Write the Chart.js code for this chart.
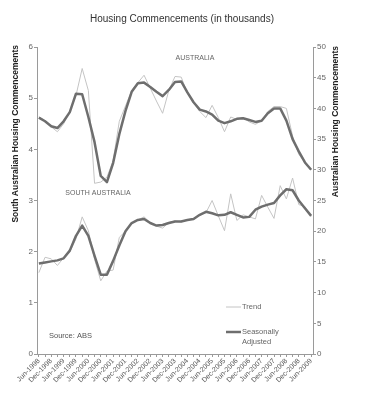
<!DOCTYPE html>
<html>
<head>
<meta charset="utf-8">
<script src="https://cdn.jsdelivr.net/npm/chart.js@4"></script>
<style>
  html, body { margin: 0; padding: 0; background: #fff; }
  #wrap { width: 366px; height: 400px; position: relative; }
</style>
</head>
<body>
<div id="wrap"><canvas id="chart" width="366" height="400"></canvas></div>
<script>
// quarterly categories, Jun-1998 .. Jun-2009
const quarters = [
  'Jun-1998','Sep-1998','Dec-1998','Mar-1999','Jun-1999','Sep-1999','Dec-1999','Mar-2000',
  'Jun-2000','Sep-2000','Dec-2000','Mar-2001','Jun-2001','Sep-2001','Dec-2001','Mar-2002',
  'Jun-2002','Sep-2002','Dec-2002','Mar-2003','Jun-2003','Sep-2003','Dec-2003','Mar-2004',
  'Jun-2004','Sep-2004','Dec-2004','Mar-2005','Jun-2005','Sep-2005','Dec-2005','Mar-2006',
  'Jun-2006','Sep-2006','Dec-2006','Mar-2007','Jun-2007','Sep-2007','Dec-2007','Mar-2008',
  'Jun-2008','Sep-2008','Dec-2008','Mar-2009','Jun-2009'
]
// only these get a printed label on the x axis
const tickLabels = [
  'Jun-1998','Dec-1998','Jun-1999','Dec-1999','Jun-2000','Dec-2000','Jun-2001','Dec-2001',
  'Jun-2002','Dec-2002','Jun-2003','Dec-2003','Jun-2004','Dec-2004','Jun-2005','Dec-2005',
  'Jun-2006','Dec-2006','Jun-2007','Dec-2007','Jun-2008','Dec-2008','Jun-2009'
]

// Australia (right axis, thousands)
const ausSeasAdj = [38.5, 37.9, 37.1, 36.8, 37.9, 39.4, 42.4, 42.3, 38.6, 34.5, 29.0, 28.0, 31.1, 35.8, 39.6,
  42.7, 44.1, 44.2, 43.5, 42.7, 42.0, 43.0, 44.3, 44.4, 42.6, 41.0, 39.8, 39.5, 39.0, 38.0,
  37.6, 37.9, 38.3, 38.4, 38.1, 37.8, 38.0, 39.2, 40.0, 40.0, 38.0, 35.0, 33.0, 31.2, 30.0]
const ausTrend = [38.6, 38.0, 37.0, 36.2, 37.5, 39.5, 42.1, 46.5, 42.9, 27.8, 28.0, 28.8, 31.5, 37.9, 40.4,
  42.9, 44.2, 45.4, 43.3, 41.2, 39.2, 42.9, 45.2, 45.1, 42.5, 41.0, 39.5, 38.5, 40.5, 38.5,
  36.2, 38.6, 38.2, 38.5, 37.8, 37.4, 38.0, 39.5, 40.3, 40.3, 40.0, 35.5, 32.5, 31.2, 30.0]

// South Australia (left axis, thousands)
const saSeasAdj = [1.77, 1.79, 1.81, 1.83, 1.87, 2.02, 2.31, 2.51, 2.31, 1.92, 1.55, 1.55, 1.82, 2.12, 2.40,
  2.56, 2.62, 2.64, 2.56, 2.51, 2.52, 2.56, 2.59, 2.59, 2.62, 2.64, 2.72, 2.78, 2.75, 2.71,
  2.72, 2.77, 2.72, 2.67, 2.68, 2.82, 2.88, 2.92, 2.95, 3.10, 3.22, 3.20, 3.00, 2.85, 2.70]
const saTrend = [1.59, 1.89, 1.86, 1.73, 1.88, 2.00, 2.25, 2.68, 2.41, 1.85, 1.43, 1.62, 1.64, 2.28, 2.40,
  2.55, 2.62, 2.68, 2.57, 2.50, 2.46, 2.57, 2.60, 2.58, 2.62, 2.65, 2.72, 2.76, 3.00, 2.70,
  2.41, 3.13, 2.61, 2.72, 2.68, 2.64, 3.10, 2.87, 2.65, 3.29, 3.03, 3.44, 2.92, 2.88, 2.69]

const FONT = '"Liberation Sans", Arial, sans-serif'
const THIN = '#c4c4c4'
const THICK = '#6e6e6e'
const AXIS = '#9a9a9a'

const pts = arr => arr.map((v, i) => ({ x: i, y: v }))

// titles, region labels, source and the small legend
const annotations = {
  id: 'annotations',
  afterDraw(chart) {
    const c = chart.ctx
    c.save()
    c.textBaseline = 'middle'

    c.fillStyle = '#333'
    c.font = '10px ' + FONT
    c.textAlign = 'center'
    c.fillText('Housing Commencements (in thousands)', 182, 19)

    c.font = 'bold 8.5px ' + FONT
    c.fillStyle = '#222'
    c.textAlign = 'right'
    c.save()
    c.translate(16, 45)
    c.rotate(-Math.PI / 2)
    c.fillText('South Australian Housing Commencements', 0, 0)
    c.restore()
    c.save()
    c.translate(336, 46)
    c.rotate(-Math.PI / 2)
    c.fillText('Australian Housing Commencements', 0, 0)
    c.restore()

    c.fillStyle = '#666'
    c.font = '7px ' + FONT
    c.textAlign = 'center'
    c.fillText('AUSTRALIA', 195, 58)
    c.fillText('SOUTH AUSTRALIA', 98, 193)

    c.textAlign = 'left'
    c.font = '7.5px ' + FONT
    c.fillStyle = '#555'
    c.fillText('Source: ABS', 49, 336)

    // legend
    c.strokeStyle = THIN
    c.lineWidth = 1
    c.beginPath(); c.moveTo(226, 307); c.lineTo(241, 307); c.stroke()
    c.strokeStyle = THICK
    c.lineWidth = 2.5
    c.beginPath(); c.moveTo(226, 332); c.lineTo(241, 332); c.stroke()
    c.fillStyle = '#666'
    c.fillText('Trend', 242, 307)
    c.fillText('Seasonally', 242, 332)
    c.fillText('Adjusted', 242, 342)
    c.restore()
  }
}

new Chart(document.getElementById('chart'), {
  type: 'line',
  data: {
    datasets: [
      { label: 'Seasonally Adjusted', data: pts(ausSeasAdj), yAxisID: 'y1', borderColor: THICK, borderWidth: 2.5, order: 1 },
      { label: 'Trend', data: pts(ausTrend), yAxisID: 'y1', borderColor: THIN, borderWidth: 1, order: 2 },
      { label: 'Seasonally Adjusted', data: pts(saSeasAdj), yAxisID: 'y', borderColor: THICK, borderWidth: 2.5, order: 1 },
      { label: 'Trend', data: pts(saTrend), yAxisID: 'y', borderColor: THIN, borderWidth: 1, order: 2 }
    ]
  },
  options: {
    responsive: false,
    animation: false,
    events: [],
    elements: { point: { radius: 0 }, line: { tension: 0, borderJoinStyle: 'round' } },
    layout: { padding: { top: 47, left: 0, right: 0, bottom: 0 } },
    plugins: { legend: { display: false }, title: { display: false }, tooltip: { enabled: false } },
    scales: {
      x: {
        type: 'linear',
        min: -0.3,
        max: 44.3,
        afterBuildTicks: s => { s.ticks = quarters.map((q, i) => ({ value: i })) },
        afterFit: s => { s.height = 46 },
        grid: { drawOnChartArea: false, color: AXIS, tickLength: 3 },
        border: { color: AXIS },
        ticks: {
          autoSkip: false,
          maxRotation: 45,
          minRotation: 45,
          padding: 0,
          color: '#555',
          font: { family: FONT, size: 7 },
          callback: v => tickLabels.includes(quarters[v]) ? quarters[v] : ''
        }
      },
      y: {
        position: 'left',
        min: 0,
        max: 6,
        afterFit: s => { s.width = 37 },
        grid: { drawOnChartArea: false, color: AXIS, tickLength: 3 },
        border: { color: AXIS },
        ticks: { stepSize: 1, padding: 1, color: '#666', font: { family: FONT, size: 8 } }
      },
      y1: {
        position: 'right',
        min: 0,
        max: 50,
        afterFit: s => { s.width = 53 },
        grid: { drawOnChartArea: false, color: AXIS, tickLength: 3 },
        border: { color: AXIS },
        ticks: { stepSize: 5, padding: 1, color: '#666', font: { family: FONT, size: 8 } }
      }
    }
  },
  plugins: [annotations]
})
</script>
</body>
</html>
